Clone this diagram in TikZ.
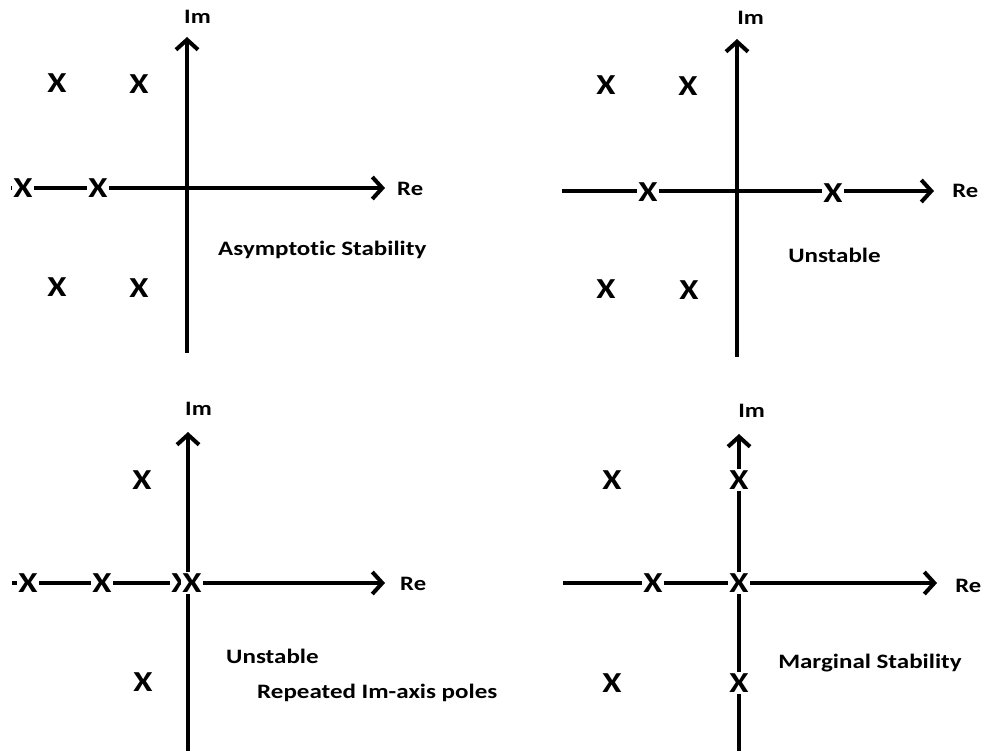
\documentclass[tikz,border=0pt]{standalone}
\usepackage{fontspec}
\setmainfont{Carlito}[Ligatures=NoCommon]
\usetikzlibrary{arrows.meta}

\tikzset{
  axis/.style={line width=4pt,-{Straight Barb[length=10pt,width=22pt,line width=4pt]}},
  pole/.style={fill=white,inner sep=1.5pt,xscale=1.2,font=\bfseries\fontsize{29}{29}\selectfont},
  axlbl/.style={anchor=base west,inner sep=0pt,xscale=1.2,font=\bfseries\fontsize{20.5}{24}\selectfont},
  caption/.style={anchor=base west,inner sep=0pt,xscale=1.22,font=\bfseries\fontsize{20.5}{24}\selectfont}
}

\begin{document}
\begin{tikzpicture}[x=1pt,y=-1pt]
\useasboundingbox[fill=white] (0,0) rectangle (984,750);
% --- top left: asymptotic stability ---
\coordinate (aW) at (11,188);
\coordinate (aE) at (385,188);
\coordinate (aS) at (187,353);
\coordinate (aN) at (187,37);
\draw[axis] (aW) -- (aE);
\draw[axis] (aS) -- (aN);
\node[axlbl] (aIm) at (184,23) {Im};
\node[axlbl] (aRe) at (397,195) {Re};
\node[pole] (a1) at (57,83) {X};
\node[pole] (a2) at (139,84) {X};
\node[pole] (a3) at (23,188) {X};
\node[pole] (a4) at (98,188) {X};
\node[pole] (a5) at (57,287) {X};
\node[pole] (a6) at (139,288) {X};
\node[caption] (aTxt) at (218,255) {Asymptotic Stability};
% --- top right: unstable ---
\coordinate (bW) at (562,191);
\coordinate (bE) at (934,191);
\coordinate (bS) at (737,357);
\coordinate (bN) at (737,39);
\draw[axis] (bW) -- (bE);
\draw[axis] (bS) -- (bN);
\node[axlbl] (bIm) at (737,24) {Im};
\node[axlbl] (bRe) at (952,197) {Re};
\node[pole] (b1) at (606,85) {X};
\node[pole] (b2) at (688,86) {X};
\node[pole] (b3) at (648,192) {X};
\node[pole] (b4) at (833,193) {X};
\node[pole] (b5) at (606,289) {X};
\node[pole] (b6) at (689,290) {X};
\node[caption] (bTxt) at (788,262) {Unstable};
% --- bottom left: repeated poles on the Im-axis ---
\coordinate (cW) at (12,583);
\coordinate (cE) at (385,583);
\coordinate (cS) at (188,752);
\coordinate (cN) at (188,432);
\draw[axis] (cW) -- (cE);
\draw[axis] (cS) -- (cN);
\node[axlbl] (cIm) at (185,415) {Im};
\node[axlbl] (cRe) at (400,590) {Re};
\node[pole] (c1) at (28,583) {X};
\node[pole] (c2) at (102,583) {X};
\node[pole] (c3) at (181,583) {X};
\node[pole] (c4) at (192,583) {X};
\node[pole] (c5) at (142,480) {X};
\node[pole] (c6) at (143,682) {X};
\node[caption] (cTxt) at (226,663) {Unstable};
\node[caption] (cTxt2) at (257,698) {Repeated Im-axis poles};
% --- bottom right: marginal stability ---
\coordinate (dW) at (563,583);
\coordinate (dE) at (937,583);
\coordinate (dS) at (739,752);
\coordinate (dN) at (739,434);
\draw[axis] (dW) -- (dE);
\draw[axis] (dS) -- (dN);
\node[axlbl] (dIm) at (738,417) {Im};
\node[axlbl] (dRe) at (955,592) {Re};
\node[pole] (d1) at (612,480) {X};
\node[pole] (d2) at (739,480) {X};
\node[pole] (d3) at (653,583) {X};
\node[pole] (d4) at (739,583) {X};
\node[pole] (d5) at (612,683) {X};
\node[pole] (d6) at (739,683) {X};
\node[caption] (dTxt) at (778,668) {Marginal Stability};
\end{tikzpicture}
\end{document}
